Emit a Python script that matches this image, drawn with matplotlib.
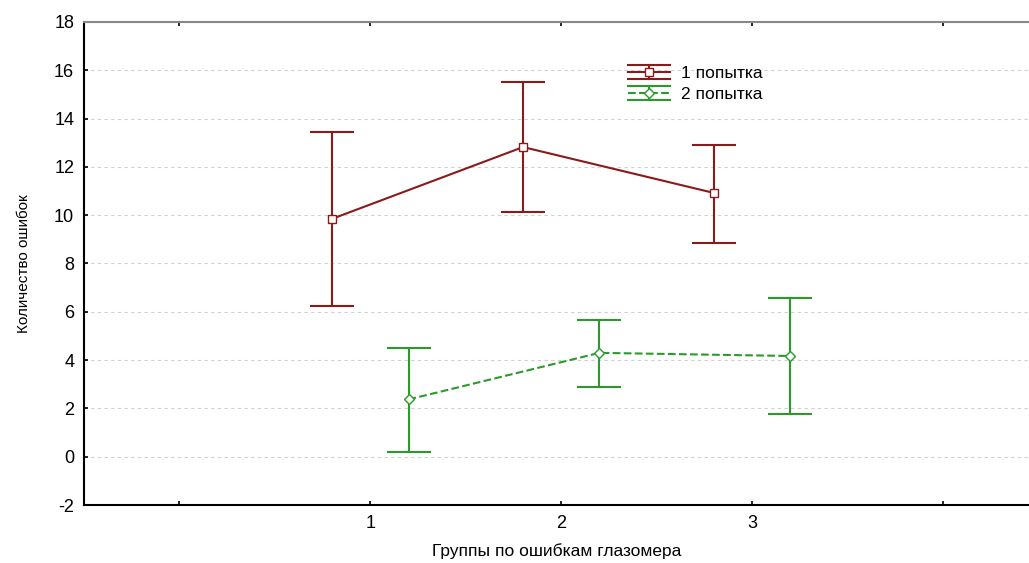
import numpy as np
import matplotlib.pyplot as plt
from matplotlib.lines import Line2D
from matplotlib.legend_handler import HandlerBase

plt.rcParams['font.family'] = ['Liberation Sans', 'DejaVu Sans']
plt.rcParams['axes.unicode_minus'] = False

groups = [1, 2, 3]
tick_labels = ['', '1', '2', '3', '']

# 1 попытка
mean1 = [9.85, 12.82, 10.92]
low1 = [6.25, 10.13, 8.85]
high1 = [13.45, 15.52, 12.9]

# 2 попытка
mean2 = [2.37, 4.3, 4.17]
low2 = [0.2, 2.9, 1.78]
high2 = [4.5, 5.68, 6.57]

red = '#8b1a1a'
green = '#2a9a2a'


class ErrHandler(HandlerBase):
    # легенда как у Statistica: две "шапки" сверху и снизу, линия с маркером посередине
    def create_artists(self, legend, orig_handle, xdescent, ydescent,
                       width, height, fontsize, trans):
        c = orig_handle.get_color()
        y0 = height / 2 - ydescent
        d = 0.42 * fontsize
        xs = [-xdescent, width - xdescent]
        xm = width / 2 - xdescent
        arts = [
            Line2D(xs, [y0 + d, y0 + d], color=c, lw=1.5),
            Line2D(xs, [y0 - d, y0 - d], color=c, lw=1.5),
            Line2D([xm, xm], [y0 - d, y0 + d], color=c, lw=1.5),
            Line2D(xs, [y0, y0], color=c, lw=1.5, ls=orig_handle.get_linestyle()),
            Line2D([xm], [y0], marker=orig_handle.get_marker(), ms=orig_handle.get_markersize(),
                   mfc='white', mec=c, ls='none'),
        ]
        for a in arts:
            a.set_transform(trans)
        return arts


fig = plt.figure(figsize=(10.29, 5.63), dpi=100)
ax = fig.add_axes([0.0816, 0.103, 0.9184, 0.858])

x = np.array(groups, dtype=float)
m1 = np.array(mean1)
m2 = np.array(mean2)
err1 = [m1 - np.array(low1), np.array(high1) - m1]
err2 = [m2 - np.array(low2), np.array(high2) - m2]

ax.errorbar(x - 0.2, m1, yerr=err1, color=red, lw=1.5, capsize=16,
            capthick=1.5, marker='s', ms=6, mfc='white', mec=red, zorder=3)
ax.errorbar(x + 0.2, m2, yerr=err2, color=green, lw=1.5, ls='--',
            capsize=16, capthick=1.5, marker='D', ms=5.5, mfc='white',
            mec=green, zorder=3)

h1 = Line2D([], [], color=red, ls='-', marker='s', ms=6)
h2 = Line2D([], [], color=green, ls='--', marker='D', ms=5.5)

ax.set_xlim(-0.5, 4.45)
ax.set_ylim(-2, 18)
ax.set_xticks(range(5))
ax.set_xticklabels(tick_labels)
ax.set_yticks(range(-2, 19, 2))
ax.tick_params(direction='in', length=3, width=1.2, labelsize=13,
               top=True, pad=7)
ax.yaxis.grid(True, ls=(0, (3, 3)), color='#d0d0d0', lw=0.8)
ax.set_axisbelow(True)

ax.spines['right'].set_visible(False)
ax.spines['left'].set_linewidth(1.5)
ax.spines['bottom'].set_linewidth(1.5)
ax.spines['top'].set_color('#888888')
ax.spines['top'].set_linewidth(1.5)

ax.set_xlabel('Группы по ошибкам глазомера', fontsize=12.5, labelpad=8)
ax.set_ylabel('Количество ошибок', fontsize=11, labelpad=17)

ax.legend([h1, h2], ['1 попытка', '2 попытка'], handler_map={Line2D: ErrHandler()},
          loc='upper left', bbox_to_anchor=(0.567, 0.927), frameon=False,
          fontsize=12.5, handlelength=2.4, handletextpad=0.6,
          labelspacing=0.35, borderpad=0)

fig.savefig('out.png', dpi=100)
